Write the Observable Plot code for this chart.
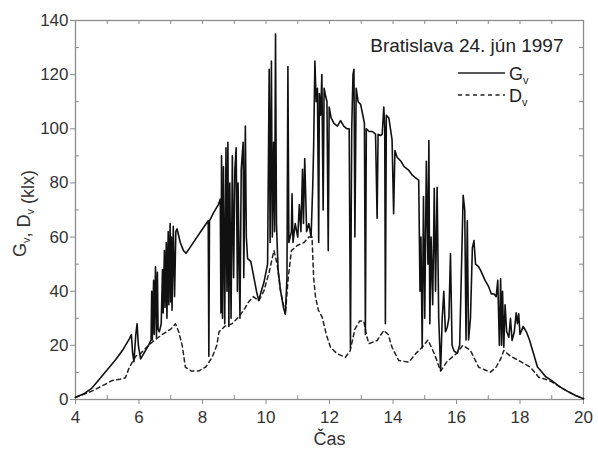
<!DOCTYPE html>
<html>
<head>
<meta charset="utf-8">
<script src="https://cdn.jsdelivr.net/npm/d3@7"></script>
<script src="https://cdn.jsdelivr.net/npm/@observablehq/plot@0.6"></script>
<style>
  html, body { margin: 0; padding: 0; background: #fff; }
  svg { display: block; }
</style>
</head>
<body>
<div id="chart"></div>
<script>
// Global illuminance G_v (time in hours, klx)
const gTime = [4.00,4.25,4.50,4.75,5.00,5.25,5.50,5.70,5.76,5.80,5.84,5.90,5.94,5.98,6.05,6.15,6.30,6.38,6.40,6.42,6.46,6.48,6.52,6.55,6.58,6.60,6.64,6.70,6.74,6.76,6.80,6.82,6.86,6.88,6.92,6.94,6.98,7.00,7.02,7.04,7.08,7.12,7.16,7.20,7.30,7.40,7.48,7.60,7.80,8.00,8.18,8.20,8.22,8.35,8.50,8.56,8.58,8.60,8.63,8.66,8.70,8.74,8.77,8.80,8.83,8.86,8.90,8.94,8.98,9.02,9.06,9.10,9.12,9.18,9.22,9.28,9.30,9.35,9.38,9.42,9.52,9.62,9.70,9.77,9.85,9.93,10.05,10.10,10.13,10.17,10.20,10.24,10.27,10.30,10.33,10.38,10.46,10.55,10.61,10.66,10.69,10.72,10.80,10.82,10.85,10.92,11.00,11.05,11.10,11.15,11.18,11.22,11.28,11.35,11.42,11.47,11.50,11.54,11.58,11.62,11.66,11.68,11.72,11.76,11.80,11.83,11.88,11.92,11.96,11.99,12.05,12.14,12.25,12.35,12.45,12.55,12.62,12.66,12.70,12.74,12.77,12.80,12.84,12.90,12.98,13.05,13.10,13.13,13.16,13.25,13.35,13.45,13.50,13.53,13.61,13.66,13.71,13.74,13.76,13.79,13.87,13.92,13.97,14.02,14.06,14.13,14.25,14.35,14.50,14.60,14.70,14.81,14.85,14.88,14.92,14.96,15.00,15.05,15.10,15.13,15.16,15.20,15.25,15.30,15.34,15.39,15.44,15.50,15.55,15.60,15.65,15.71,15.76,15.81,15.86,15.92,16.02,16.10,16.21,16.26,16.30,16.34,16.38,16.44,16.50,16.55,16.60,16.70,16.76,16.90,17.00,17.10,17.18,17.25,17.30,17.35,17.39,17.42,17.45,17.49,17.53,17.58,17.65,17.70,17.75,17.82,17.88,17.92,17.96,18.00,18.10,18.20,18.30,18.45,18.55,18.65,18.80,19.00,19.28,19.50,19.75,20.00];
const gValue = [0.8,2,4,7.5,11,14.5,18.5,22.5,24,17,14,24,28,20,15,17,20,22,40,22,44,24,49,23,47,26,25,28,48,32,55,34,58,30,62,35,65,36,60,33,64,38,62,63,58,55,54,56,59.5,63,66,16,66,69,72,74,32,90,30,86,28,93,40,95,27,80,30,90,45,85,93,40,80,30,85,95,45,101,60,52,51,45,40,36.5,40,43,50,122,58,125,60,95,62,135,65,48,40,34,31.5,45,123,58,62,76,58,65,60,72,62,85,65,89,62,65,60,78,93,125,110,115,58,113,105,120,70,115,112,110,55,108,104,102,101,103,101,100,100,19,100,120,122,60,115,110,109,105,102,24,100,99,99,98,67,98,97.5,98,108,100,28,105,104,100,96,68.6,92,89.5,88,86,84.6,83,82,81,40,60,19,75,30,88,50,95.7,28,60,35,78,40,78.4,30,10.7,30,40,25,26.7,30,53.9,20,18,17,20,75.4,70,22,66,22,30,56,58.7,50,49,47.7,44,42,39,39,38,44,20,44.6,20,40,19.3,35,25,23,30,21.8,25,32,28,31.7,24,27,25,22,16,12,10.7,8.5,7,4.5,3,1.5,0.3];

// Diffuse illuminance D_v
const dTime = [4.00,4.50,5.00,5.15,5.40,5.57,5.70,5.90,6.05,6.30,6.50,6.73,7.00,7.15,7.25,7.36,7.46,7.65,7.88,8.10,8.30,8.45,8.52,8.70,8.93,9.10,9.30,9.45,9.60,9.77,9.93,10.10,10.25,10.35,10.46,10.61,10.70,10.80,11.00,11.20,11.35,11.45,11.50,11.56,11.65,11.77,11.90,12.03,12.24,12.50,12.65,12.80,12.95,13.08,13.16,13.24,13.50,13.71,13.85,13.97,14.18,14.50,14.71,14.92,15.10,15.30,15.50,15.70,16.00,16.20,16.44,16.70,17.07,17.25,17.39,17.49,17.70,17.96,18.33,18.59,18.80,19.00,19.28,19.50,19.75,20.00];
const dValue = [0.8,3,6,7,7.5,8,12,16,17,20,22,24,26,28,25,20,12,10.5,10.5,12,15.5,20,25,27,28,30,33,36,38,36.5,40,47,55,50,40,31.5,45,55,57,58,60,60,45,37.8,33,30.4,24,19.3,16.9,15.6,18,26,29,29,24,20.6,21.8,25.5,24,19.3,14.4,13.8,16.9,19.3,22,17,10.5,14,17,20,18.1,11.9,10.1,12,15,18.1,16,14.4,11.9,8.2,7.5,6.5,4.5,3,1.5,0.3];

const xTicks = [4,6,8,10,12,14,16,18,20];
const xMinor = [5,7,9,11,13,15,17,19];
const yTicks = [0,20,40,60,80,100,120,140];
const yMinor = [10,30,50,70,90,110,130];

const titleText = "Bratislava 24. jún 1997";
const seriesNames = ["G", "D"];
const subscript = "v";
const xLabel = "Čas";

const gData = gTime.map((t, i) => ({t, v: gValue[i]}));
const dData = dTime.map((t, i) => ({t, v: dValue[i]}));

const W = 598, H = 453;
const mL = 75, mR = 15, mT = 20, mB = 54;
const pw = W - mL - mR, ph = H - mT - mB;
const axisColor = "#8c8c8c";
const font = "'Liberation Sans', Arial, sans-serif";
const dash = "4,3.5";

const chart = Plot.plot({
  width: W, height: H,
  marginLeft: mL, marginRight: mR, marginTop: mT, marginBottom: mB,
  style: {fontFamily: font, fontSize: "17px", color: "#333", background: "#fff"},
  x: {domain: [4, 20]},
  y: {domain: [0, 140]},
  marks: [
    Plot.frame({stroke: axisColor, strokeWidth: 1.3}),
    Plot.axisX({ticks: xTicks, tickSize: 5, tickPadding: 6, stroke: axisColor, fill: "#333", fontSize: 17, label: null}),
    Plot.axisY({ticks: yTicks, tickSize: 5, tickPadding: 2, stroke: axisColor, fill: "#333", fontSize: 17, label: null}),
    // inward minor ticks bottom / left
    Plot.tickX(xMinor, {x: d => d, insetTop: ph - 4, stroke: axisColor}),
    Plot.tickY(yMinor, {y: d => d, insetRight: pw - 4, stroke: axisColor}),
    // inward ticks top / right
    Plot.tickX(xTicks.concat(xMinor), {x: d => d, insetBottom: ph - 4, stroke: axisColor}),
    Plot.tickY(yTicks.concat(yMinor), {y: d => d, insetLeft: pw - 4, stroke: axisColor}),
    Plot.line(dData, {x: "t", y: "v", stroke: "#222", strokeWidth: 1.5, strokeDasharray: dash}),
    Plot.line(gData, {x: "t", y: "v", stroke: "#111", strokeWidth: 1.6}),
    Plot.text([xLabel], {frameAnchor: "bottom", dy: 45, fill: "#333", fontSize: 18}),
    Plot.text([titleText], {frameAnchor: "top-right", dx: -20, dy: 31, lineAnchor: "bottom", textAnchor: "end", fill: "#222", fontSize: 19})
  ]
});

const svg = d3.select(chart);
// y-axis label with subscripts
const ylab = svg.append("text")
  .attr("transform", `translate(26,${mT + ph / 2 + 4}) rotate(-90)`)
  .attr("text-anchor", "middle")
  .attr("fill", "#333")
  .style("font-family", font)
  .style("font-size", "18px");
seriesNames.forEach((n, i) => {
  ylab.append("tspan").text((i ? ", " : "") + n);
  ylab.append("tspan").attr("dy", 4).style("font-size", "11px").text(subscript);
  ylab.append("tspan").attr("dy", -4).text("");
});
ylab.append("tspan").text(" (klx)");

// legend
const lg = svg.append("g").attr("fill", "#222").attr("text-anchor", "start")
  .style("font-family", font).style("font-size", "18px");
const legendX = 458, legendW = 47;
seriesNames.forEach((n, i) => {
  const y = 73 + i * 22;
  lg.append("line").attr("x1", legendX).attr("x2", legendX + legendW).attr("y1", y).attr("y2", y)
    .attr("stroke", "#222").attr("stroke-width", 1.6)
    .attr("stroke-dasharray", i ? dash : null);
  const t = lg.append("text").attr("x", legendX + legendW + 4).attr("y", y + 7).attr("text-anchor", "start");
  t.append("tspan").text(n);
  t.append("tspan").attr("dy", 4).style("font-size", "11px").text(subscript);
});

document.getElementById("chart").appendChild(chart);
</script>
</body>
</html>
